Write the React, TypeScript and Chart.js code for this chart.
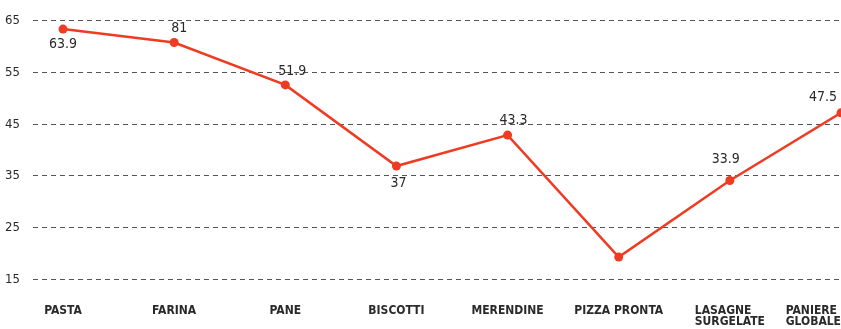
import React, { useEffect, useRef } from "react";
import { Chart, registerables } from "chart.js";

Chart.register(...registerables);

const categories: string[][] = [
  ["PASTA"],
  ["FARINA"],
  ["PANE"],
  ["BISCOTTI"],
  ["MERENDINE"],
  ["PIZZA PRONTA"],
  ["LASAGNE", "SURGELATE"],
  ["PANIERE", "GLOBALE"],
];
const values: number[] = [63.4, 60.8, 52.6, 36.9, 42.9, 19.3, 34.1, 47.2];
const valueLabels: string[] = ["63.9", "81", "51.9", "37", "43.3", "", "33.9", "47.5"];
const yTicks: number[] = [15, 25, 35, 45, 55, 65];

// placement of value labels (style, not data)
const labelOffsets: [number, number][] = [
  [0, 15],
  [5, -14],
  [7, -14],
  [2, 17],
  [6, -15],
  [0, 0],
  [-4, -21],
  [-18, -15],
];

const FONT = '"Liberation Sans Narrow", "DejaVu Sans Condensed", "Roboto", sans-serif';
const RED = "#ee3b22";

export default function App() {
  const ref = useRef<HTMLCanvasElement | null>(null);
  useEffect(() => {
    if (!ref.current) return;
    const labelsPlugin = {
      id: "customLabels",
      afterDatasetsDraw(chart: any) {
        const ctx = chart.ctx;
        const xs = chart.scales.x;
        const ys = chart.scales.y;
        ctx.save();
        ctx.font = `14px ${FONT}`;
        ctx.fillStyle = "#2a2a2a";
        ctx.textAlign = "center";
        ctx.textBaseline = "middle";
        values.forEach((v, i) => {
          const t = valueLabels[i];
          if (!t) return;
          const px = xs.getPixelForValue(i) + labelOffsets[i][0];
          const py = ys.getPixelForValue(v) + labelOffsets[i][1];
          ctx.fillText(t, px, py);
        });
        ctx.font = `bold 12px ${FONT}`;
        ctx.fillStyle = "#2a2a2a";
        ctx.textBaseline = "middle";
        const W = chart.width;
        categories.forEach((lines, i) => {
          const px = xs.getPixelForValue(i);
          const w = Math.max(...lines.map((l) => ctx.measureText(l).width));
          let left = px - w / 2;
          if (left + w > W) left = W - w;
          ctx.textAlign = "left";
          lines.forEach((l, k) => {
            ctx.fillText(l, left, 311 + k * 11);
          });
        });
        ctx.restore();
      },
    };
    const chart = new Chart(ref.current, {
      type: "line",
      data: {
        datasets: [
          {
            data: values.map((v, i) => ({ x: i, y: v })),
            borderColor: RED,
            backgroundColor: RED,
            borderWidth: 2.5,
            pointRadius: 4.5,
            pointBackgroundColor: RED,
            pointBorderWidth: 0,
            tension: 0,
            clip: false as any,
          },
        ],
      },
      options: {
        animation: false,
        responsive: false,
        maintainAspectRatio: false,
        layout: { autoPadding: false, padding: { top: 20, bottom: 49.7, left: 0, right: 0 } },
        plugins: { legend: { display: false }, tooltip: { enabled: false } },
        scales: {
          x: {
            type: "linear",
            min: -0.27,
            max: 7,
            display: false,
          },
          y: {
            min: 15,
            max: 65,
            afterBuildTicks: (s: any) => {
              s.ticks = yTicks.map((v) => ({ value: v }));
            },
            afterFit: (s: any) => {
              s.width = 33;
            },
            border: { display: false, dash: [5, 4] },
            grid: {
              drawTicks: false,
              color: "#555555",
              lineWidth: 1,
            },
            ticks: {
              padding: 13,
              color: "#2a2a2a",
              font: { family: FONT, size: 13 },
            },
          },
        },
      },
      plugins: [labelsPlugin],
    });
    return () => chart.destroy();
  }, []);
  return (
    <div style={{ position: "fixed", left: 0, top: 0, width: 841, height: 329, background: "#fff" }}>
      <canvas ref={ref} width={841} height={329} style={{ width: 841, height: 329 }} />
    </div>
  );
}
